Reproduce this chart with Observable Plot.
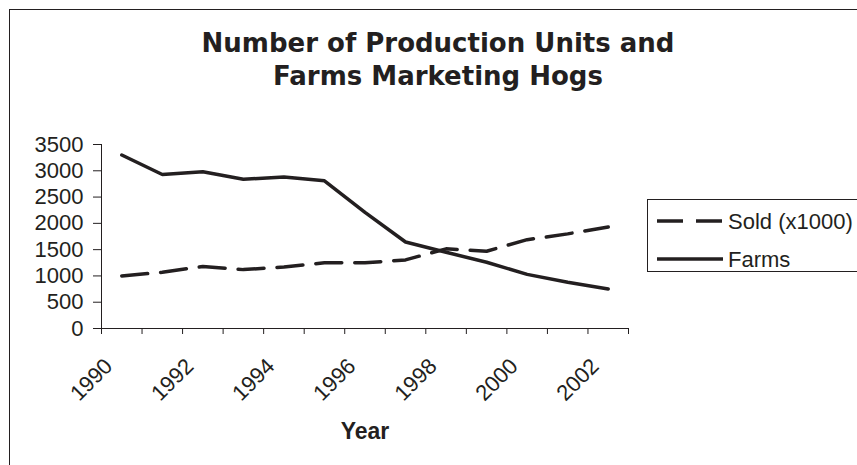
<!DOCTYPE html>
<html><head><meta charset="utf-8">
<script src="https://cdn.jsdelivr.net/npm/d3@7"></script>
<script src="https://cdn.jsdelivr.net/npm/@observablehq/plot@0.6"></script>
<style>
body{margin:0;background:#fff;}
#wrap{position:relative;width:857px;height:465px;overflow:hidden;background:#fff;font-family:"Liberation Sans",Arial,sans-serif;color:#231f20;}
#chart{position:absolute;left:0;top:0;}
#border{position:absolute;left:9px;top:9px;width:1000px;height:600px;border:1.5px solid #231f20;pointer-events:none;}
#legend{position:absolute;left:647px;top:199px;width:300px;height:71px;border:1.3px solid #231f20;background:#fff;}
#legend svg{position:absolute;left:0;top:0;}
</style></head><body>
<div id="wrap"><div id="chart"></div><div id="border"></div><div id="legend"></div></div>
<script>
const years = [1990,1991,1992,1993,1994,1995,1996,1997,1998,1999,2000,2001,2002];
const sold  = [1000,1070,1180,1120,1170,1250,1250,1305,1515,1470,1690,1800,1930];
const farms = [3300,2930,2980,2840,2880,2810,2210,1645,1450,1260,1030,880,750];
const yTicks = [0,500,1000,1500,2000,2500,3000,3500];
const xLabels = [1990,1992,1994,1996,1998,2000,2002];
const seriesNames = ["Sold (x1000)","Farms"];
const titleLines = ["Number of Production Units and","Farms Marketing Hogs"];
const xTitle = "Year";

const ink = "#231f20";
const dash = "26,13";
const rows = years.map((y,i)=>({year:y, sold:sold[i], farms:farms[i]}));
const bandEdges = years.map(y=>y-0.5).concat([years[years.length-1]+0.5]);
const titleFont = '"DejaVu Sans", Verdana, sans-serif';

const chart = Plot.plot({
  width: 857, height: 465,
  marginLeft: 101, marginRight: 229, marginTop: 144, marginBottom: 137,
  style: {fontFamily: '"Liberation Sans", Arial, sans-serif', color: ink, background: "transparent"},
  x: {type: "linear", domain: [bandEdges[0], bandEdges[bandEdges.length-1]]},
  y: {domain: [0, 3500]},
  marks: [
    Plot.axisY({ticks: yTicks, tickSize: 8, tickPadding: 10, fontSize: 22, tickFormat: d=>String(d), label: null, stroke: ink, fill: ink}),
    Plot.axisX({ticks: bandEdges, tickSize: 6, tickFormat: () => "", label: null, stroke: ink}),
    Plot.frame({anchor: "left", stroke: ink}),
    Plot.frame({anchor: "bottom", stroke: ink}),
    Plot.text(xLabels, {x: d=>d, text: d=>String(d), frameAnchor: "bottom", lineAnchor: "middle", rotate: -45, textAnchor: "end", dx: -13, dy: 34, fontSize: 22, fill: ink}),
    Plot.line(rows, {x: "year", y: "sold", stroke: ink, strokeWidth: 3.5, strokeDasharray: dash, strokeLinejoin: "miter"}),
    Plot.line(rows, {x: "year", y: "farms", stroke: ink, strokeWidth: 3.5, strokeLinejoin: "miter"}),
    Plot.text([xTitle], {frameAnchor: "bottom", lineAnchor: "middle", dy: 103, fontSize: 23, fontWeight: "bold", fill: ink}),
    Plot.text([titleLines[0]], {frameAnchor: "top", lineAnchor: "middle", dx: 73, dy: -101, fontSize: 26, fontWeight: "bold", fontFamily: titleFont, fill: ink}),
    Plot.text([titleLines[1]], {frameAnchor: "top", lineAnchor: "middle", dx: 73, dy: -68, fontSize: 26, fontWeight: "bold", fontFamily: titleFont, fill: ink})
  ]
});
document.getElementById("chart").appendChild(chart);

// legend
const lg = d3.select("#legend").append("svg").attr("width", 300).attr("height", 71);
const entries = [{name: seriesNames[0], dash: dash, y: 21}, {name: seriesNames[1], dash: null, y: 59}];
entries.forEach(e => {
  lg.append("line").attr("x1", 9).attr("x2", 75).attr("y1", e.y).attr("y2", e.y)
    .attr("stroke", ink).attr("stroke-width", 3.5).attr("stroke-dasharray", e.dash);
  lg.append("text").attr("x", 80).attr("y", e.y).attr("dy", "0.35em")
    .attr("font-size", 22).attr("fill", ink).attr("font-family", '"Liberation Sans", Arial, sans-serif').text(e.name);
});
</script>
</body></html>
